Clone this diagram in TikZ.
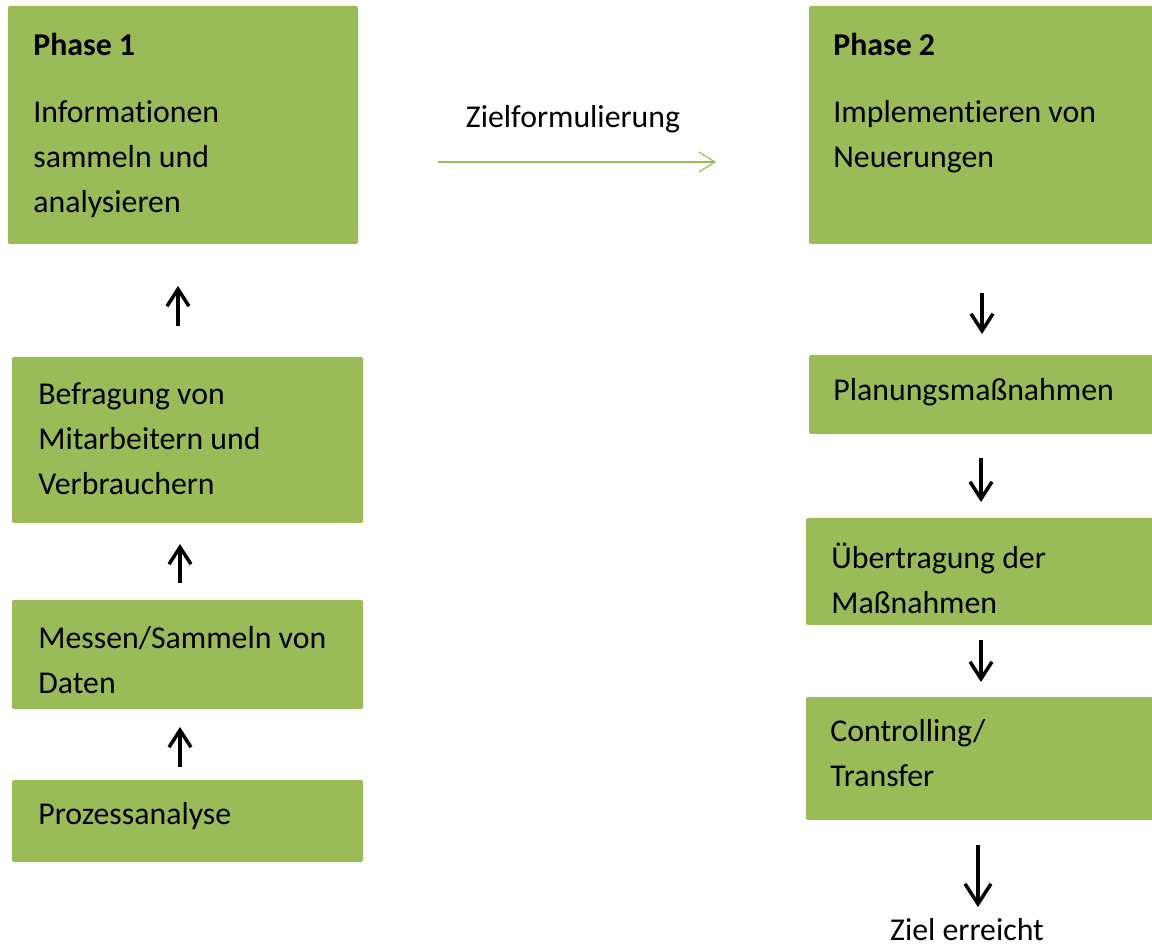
\documentclass[tikz,border=0pt]{standalone}
\usepackage{fontspec}
\setmainfont[Ligatures=NoCommon]{Carlito}
\usetikzlibrary{arrows.meta}
\definecolor{boxgreen}{HTML}{9BBB59}
\tikzset{
  box/.style={fill=boxgreen, draw=none, rounded corners=1pt, inner sep=0pt},
  txt/.style={anchor=west, inner sep=0pt, align=left, font=\fontsize{15.9}{22.5}\selectfont},
  ctxt/.style={anchor=center, inner sep=0pt, font=\fontsize{15.9}{22.5}\selectfont},
  blackarrow/.style={line width=1.75pt, -{Straight Barb[length=8.5pt, width=11pt]}},
  bigarrow/.style={line width=1.75pt, -{Straight Barb[length=10pt, width=13pt]}},
  greenarrow/.style={draw=boxgreen, line width=0.6pt, -{Straight Barb[length=8pt, width=10pt, line width=0.6pt]}}
}
\begin{document}
\begin{tikzpicture}[x=0.5pt,y=-0.5pt]
\useasboundingbox (0,0) rectangle (1152,946);
% boxes
\node[box, minimum width=175pt, minimum height=119pt] (p1) at (183,125) {};
\node[box, minimum width=175.5pt, minimum height=83pt] (bef) at (187.5,440) {};
\node[box, minimum width=175.5pt, minimum height=54.5pt] (mes) at (187.5,654.5) {};
\node[box, minimum width=175.5pt, minimum height=41pt] (pro) at (187.5,821) {};
\node[box, minimum width=173.5pt, minimum height=119pt] (p2) at (982.5,125) {};
\node[box, minimum width=173.5pt, minimum height=39.5pt] (pla) at (982.5,394.5) {};
\node[box, minimum width=175pt, minimum height=53.5pt] (ueb) at (981,571.5) {};
\node[box, minimum width=175pt, minimum height=61.5pt] (con) at (981,758.5) {};
% texts
\node[txt, font=\fontsize{15.9}{22.5}\selectfont\bfseries] (t1) at (33,44) {Phase 1};
\node[txt] (t1b) at (33,159) {Informationen\\sammeln und\\analysieren};
\node[txt] (tbef) at (38,439) {Befragung von\\Mitarbeitern und\\Verbrauchern};
\node[txt] (tmes) at (38,660.5) {Messen/Sammeln von\\Daten};
\node[txt] (tpro) at (38,816) {Prozessanalyse};
\node[txt, font=\fontsize{15.9}{22.5}\selectfont\bfseries] (t2) at (833,44) {Phase 2};
\node[txt] (t2b) at (833,136.5) {Implementieren von\\Neuerungen};
\node[txt] (tpla) at (833,392) {Planungsmaßnahmen};
\node[txt] (tueb) at (831,578.5) {Übertragung der\\Maßnahmen};
\node[txt] (tcon) at (830,753.5) {Controlling/\\Transfer};
\node[ctxt] (zf) at (573,119) {Zielformulierung};
\node[ctxt] (ze) at (967,930) {Ziel erreicht};
% arrow coordinates
\coordinate (a1s) at (178,326); \coordinate (a1e) at (178,286);
\coordinate (a2s) at (180,583); \coordinate (a2e) at (180,544);
\coordinate (a3s) at (180,767); \coordinate (a3e) at (180,727);
\coordinate (d1s) at (982,293); \coordinate (d1e) at (982,334);
\coordinate (d2s) at (981,458); \coordinate (d2e) at (981,502);
\coordinate (d3s) at (981,640); \coordinate (d3e) at (981,682);
\coordinate (d4s) at (978,845); \coordinate (d4e) at (978,907);
\coordinate (gs) at (438,162); \coordinate (ge) at (716,162);
\draw[blackarrow] (a1s) -- (a1e);
\draw[blackarrow] (a2s) -- (a2e);
\draw[blackarrow] (a3s) -- (a3e);
\draw[blackarrow] (d1s) -- (d1e);
\draw[blackarrow] (d2s) -- (d2e);
\draw[blackarrow] (d3s) -- (d3e);
\draw[bigarrow] (d4s) -- (d4e);
\draw[greenarrow] (gs) -- (ge);
\end{tikzpicture}
\end{document}
